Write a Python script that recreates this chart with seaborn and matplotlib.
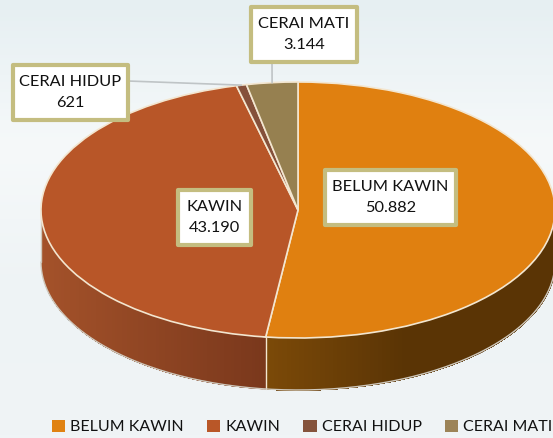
import matplotlib
matplotlib.use('Agg')

import matplotlib.pyplot as plt
import numpy as np
import seaborn as sns
from matplotlib.colors import LinearSegmentedColormap, to_rgb
from matplotlib.patches import Patch, Rectangle

categories = ["BELUM KAWIN", "KAWIN", "CERAI HIDUP", "CERAI MATI"]
values = [50882, 43190, 621, 3144]
value_labels = ["50.882", "43.190", "621", "3.144"]

sns.set_theme(style="white")
plt.rcParams['font.family'] = ['Lato', 'DejaVu Sans']

palette = sns.color_palette(["#e08010", "#b85628", "#85503a", "#968050"])
legend_colors = ["#e08212", "#b95728", "#85533c", "#9c8357"]
wall_colors = {0: ("#7c4a08", "#5a3405"), 1: ("#a4522a", "#7a381c")}

W, H = 553, 438
CX, CY, RX, RY = 298, 210, 257, 128
DEPTH = 52 / RY
FS = 11.8


def px(x, y):
    return (x - CX) / RX, (CY - y) / RY


fig = plt.figure(figsize=(W / 100, H / 100), dpi=100)
ax = fig.add_axes([0, 0, 1, 1])

# slices go clockwise from 12 o'clock
total = sum(values)
edges = 90 - 360 * np.cumsum([0] + values) / total

# front wall: each strip runs to the slice end and the next paints over it, so no seams
for i, (start, end) in enumerate(zip(edges[:-1], edges[1:])):
    if i not in wall_colors:
        continue
    light, dark = np.array(to_rgb(wall_colors[i][0])), np.array(to_rgb(wall_colors[i][1]))
    t = np.radians(np.linspace(start, end, 200))
    t = t[np.sin(t) <= 0]
    for j in range(len(t) - 1):
        xs = np.cos(t[j:])
        ys = np.sin(t[j:])
        if i == 0:
            k = np.clip((xs[0] + 0.125) / 0.55, 0, 1)
        else:
            k = np.clip((xs[0] + 1) / 0.875, 0, 1)
        c = light + (dark - light) * k
        ax.fill_between(xs, ys, ys - DEPTH, color=c, lw=0, zorder=1)

# split between the two big slices on the wall
split = np.radians(edges[1])
ax.plot([np.cos(split)] * 2, [np.sin(split), np.sin(split) - DEPTH], color="#f3e6d0", lw=1, zorder=2)

t = np.radians(np.linspace(180, 360, 200))
ax.plot(np.cos(t), np.sin(t) - DEPTH, color="#cfc8bc", lw=1, zorder=2)
ax.plot([-1, -1], [0, -DEPTH], color="#cfc8bc", lw=1, zorder=2)

wedges, _ = ax.pie(values, colors=palette, startangle=90, counterclock=False, radius=1,
                   wedgeprops=dict(edgecolor="#f3e6d0", linewidth=1.2, zorder=3))

ax.set_aspect('auto')
ax.set_xlim(-CX / RX, (W - CX) / RX)
ax.set_ylim((CY - H) / RY, CY / RY)

# pale washed out backdrop
bg = LinearSegmentedColormap.from_list("bg", ["#e6eff2", "#f6f9fa", "#eef3f5", "#f0f4f6"])
ax.imshow(np.linspace(0, 1, 128).reshape(-1, 1), cmap=bg, aspect='auto', zorder=0,
          extent=[*ax.get_xlim(), *ax.get_ylim()], origin='upper')
ax.set_xlim(-CX / RX, (W - CX) / RX)
ax.set_ylim((CY - H) / RY, CY / RY)

# label boxes in pixels: left, top, right, bottom
boxes = [(325, 170, 456, 225), (178, 190, 251, 245), (13, 65, 128, 120), (251, 7, 357, 62)]
leader_from = {2: (128, 81), 3: (272, 62)}
for i, (cat, lab) in enumerate(zip(categories, value_labels)):
    x0, y0, x1, y1 = boxes[i]
    mid = np.radians((edges[i] + edges[i + 1]) / 2)
    if i in leader_from:
        lx, ly = px(*leader_from[i])
        ax.plot([lx, np.cos(mid)], [ly, np.sin(mid)], color="#bfc4c6", lw=1.2, zorder=4)
    left, bottom = px(x0, y1)
    right, top = px(x1, y0)
    ax.add_patch(Rectangle((left, bottom), right - left, top - bottom, fc="white", ec="#c4bd80",
                           lw=3, joinstyle='round', zorder=5))
    ax.text((left + right) / 2, (bottom + top) / 2, f"{cat}\n{lab}", ha='center', va='center',
            multialignment='center', fontsize=FS, color="#111111", linespacing=1.6, zorder=6)

handles = [Patch(facecolor=c, edgecolor='none') for c in legend_colors]
ax.legend(handles, categories, ncols=4, frameon=False, fontsize=11.5, loc='center',
          bbox_to_anchor=(302 / W, 1 - 427 / H), handlelength=0.85, handleheight=0.85,
          handletextpad=0.3, columnspacing=1.45, labelcolor="#111111")

plt.savefig('out.png', dpi=100)
